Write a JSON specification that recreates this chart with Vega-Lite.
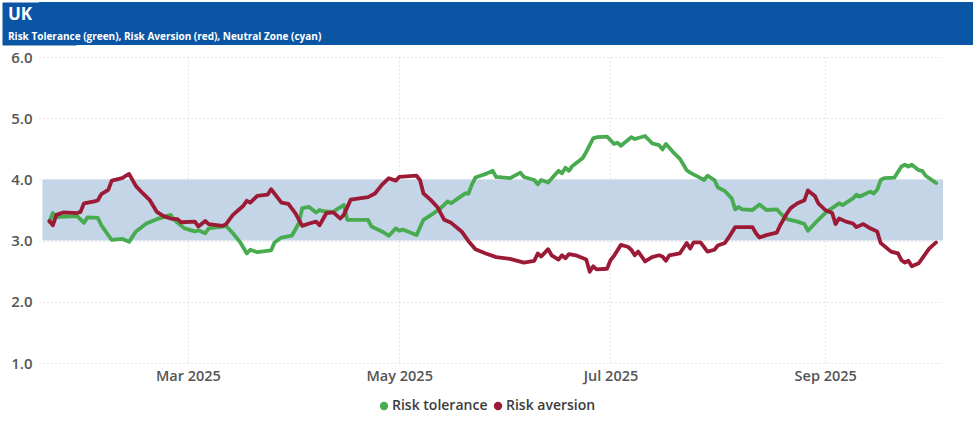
{
  "$schema": "https://vega.github.io/schema/vega-lite/v6.json",
  "padding": {"left": 2, "top": -1, "right": 2, "bottom": 0},
  "background": "white",
  "spacing": 5,
  "config": {"font": "Open Sans", "view": {"stroke": null}},
  "datasets": {
    "band": [{"start": "2025-01-18", "end": "2025-10-05", "lo": 3, "hi": 4}],
    "pts": [
      {"date":"2025-01-20","series":"Risk tolerance","value":3.31},
      {"date":"2025-01-21","series":"Risk tolerance","value":3.45},
      {"date":"2025-01-22","series":"Risk tolerance","value":3.38},
      {"date":"2025-01-23","series":"Risk tolerance","value":3.39},
      {"date":"2025-01-28","series":"Risk tolerance","value":3.40},
      {"date":"2025-01-30","series":"Risk tolerance","value":3.29},
      {"date":"2025-01-31","series":"Risk tolerance","value":3.38},
      {"date":"2025-02-03","series":"Risk tolerance","value":3.37},
      {"date":"2025-02-04","series":"Risk tolerance","value":3.25},
      {"date":"2025-02-07","series":"Risk tolerance","value":3.01},
      {"date":"2025-02-10","series":"Risk tolerance","value":3.03},
      {"date":"2025-02-12","series":"Risk tolerance","value":2.98},
      {"date":"2025-02-14","series":"Risk tolerance","value":3.15},
      {"date":"2025-02-17","series":"Risk tolerance","value":3.28},
      {"date":"2025-02-20","series":"Risk tolerance","value":3.35},
      {"date":"2025-02-24","series":"Risk tolerance","value":3.42},
      {"date":"2025-02-25","series":"Risk tolerance","value":3.34},
      {"date":"2025-02-28","series":"Risk tolerance","value":3.20},
      {"date":"2025-03-03","series":"Risk tolerance","value":3.15},
      {"date":"2025-03-04","series":"Risk tolerance","value":3.17},
      {"date":"2025-03-06","series":"Risk tolerance","value":3.12},
      {"date":"2025-03-07","series":"Risk tolerance","value":3.20},
      {"date":"2025-03-11","series":"Risk tolerance","value":3.23},
      {"date":"2025-03-12","series":"Risk tolerance","value":3.24},
      {"date":"2025-03-14","series":"Risk tolerance","value":3.12},
      {"date":"2025-03-16","series":"Risk tolerance","value":2.98},
      {"date":"2025-03-18","series":"Risk tolerance","value":2.79},
      {"date":"2025-03-19","series":"Risk tolerance","value":2.85},
      {"date":"2025-03-21","series":"Risk tolerance","value":2.81},
      {"date":"2025-03-25","series":"Risk tolerance","value":2.84},
      {"date":"2025-03-26","series":"Risk tolerance","value":2.97},
      {"date":"2025-03-28","series":"Risk tolerance","value":3.05},
      {"date":"2025-03-31","series":"Risk tolerance","value":3.08},
      {"date":"2025-04-02","series":"Risk tolerance","value":3.28},
      {"date":"2025-04-03","series":"Risk tolerance","value":3.53},
      {"date":"2025-04-05","series":"Risk tolerance","value":3.55},
      {"date":"2025-04-07","series":"Risk tolerance","value":3.46},
      {"date":"2025-04-08","series":"Risk tolerance","value":3.50},
      {"date":"2025-04-09","series":"Risk tolerance","value":3.48},
      {"date":"2025-04-12","series":"Risk tolerance","value":3.47},
      {"date":"2025-04-13","series":"Risk tolerance","value":3.51},
      {"date":"2025-04-15","series":"Risk tolerance","value":3.58},
      {"date":"2025-04-16","series":"Risk tolerance","value":3.34},
      {"date":"2025-04-22","series":"Risk tolerance","value":3.34},
      {"date":"2025-04-23","series":"Risk tolerance","value":3.23},
      {"date":"2025-04-26","series":"Risk tolerance","value":3.15},
      {"date":"2025-04-28","series":"Risk tolerance","value":3.08},
      {"date":"2025-04-30","series":"Risk tolerance","value":3.20},
      {"date":"2025-05-01","series":"Risk tolerance","value":3.16},
      {"date":"2025-05-02","series":"Risk tolerance","value":3.18},
      {"date":"2025-05-06","series":"Risk tolerance","value":3.09},
      {"date":"2025-05-08","series":"Risk tolerance","value":3.34},
      {"date":"2025-05-11","series":"Risk tolerance","value":3.45},
      {"date":"2025-05-13","series":"Risk tolerance","value":3.53},
      {"date":"2025-05-15","series":"Risk tolerance","value":3.64},
      {"date":"2025-05-16","series":"Risk tolerance","value":3.61},
      {"date":"2025-05-18","series":"Risk tolerance","value":3.69},
      {"date":"2025-05-20","series":"Risk tolerance","value":3.77},
      {"date":"2025-05-21","series":"Risk tolerance","value":3.77},
      {"date":"2025-05-22","series":"Risk tolerance","value":3.92},
      {"date":"2025-05-23","series":"Risk tolerance","value":4.03},
      {"date":"2025-05-26","series":"Risk tolerance","value":4.09},
      {"date":"2025-05-28","series":"Risk tolerance","value":4.14},
      {"date":"2025-05-29","series":"Risk tolerance","value":4.04},
      {"date":"2025-06-02","series":"Risk tolerance","value":4.02},
      {"date":"2025-06-05","series":"Risk tolerance","value":4.11},
      {"date":"2025-06-06","series":"Risk tolerance","value":4.04},
      {"date":"2025-06-09","series":"Risk tolerance","value":3.99},
      {"date":"2025-06-10","series":"Risk tolerance","value":3.92},
      {"date":"2025-06-11","series":"Risk tolerance","value":3.99},
      {"date":"2025-06-13","series":"Risk tolerance","value":3.95},
      {"date":"2025-06-16","series":"Risk tolerance","value":4.14},
      {"date":"2025-06-17","series":"Risk tolerance","value":4.10},
      {"date":"2025-06-18","series":"Risk tolerance","value":4.19},
      {"date":"2025-06-19","series":"Risk tolerance","value":4.14},
      {"date":"2025-06-20","series":"Risk tolerance","value":4.22},
      {"date":"2025-06-23","series":"Risk tolerance","value":4.35},
      {"date":"2025-06-24","series":"Risk tolerance","value":4.45},
      {"date":"2025-06-26","series":"Risk tolerance","value":4.67},
      {"date":"2025-06-27","series":"Risk tolerance","value":4.69},
      {"date":"2025-06-30","series":"Risk tolerance","value":4.70},
      {"date":"2025-07-02","series":"Risk tolerance","value":4.58},
      {"date":"2025-07-03","series":"Risk tolerance","value":4.60},
      {"date":"2025-07-04","series":"Risk tolerance","value":4.55},
      {"date":"2025-07-07","series":"Risk tolerance","value":4.69},
      {"date":"2025-07-08","series":"Risk tolerance","value":4.66},
      {"date":"2025-07-11","series":"Risk tolerance","value":4.71},
      {"date":"2025-07-13","series":"Risk tolerance","value":4.59},
      {"date":"2025-07-15","series":"Risk tolerance","value":4.56},
      {"date":"2025-07-16","series":"Risk tolerance","value":4.49},
      {"date":"2025-07-17","series":"Risk tolerance","value":4.58},
      {"date":"2025-07-19","series":"Risk tolerance","value":4.45},
      {"date":"2025-07-21","series":"Risk tolerance","value":4.34},
      {"date":"2025-07-23","series":"Risk tolerance","value":4.15},
      {"date":"2025-07-24","series":"Risk tolerance","value":4.11},
      {"date":"2025-07-27","series":"Risk tolerance","value":4.02},
      {"date":"2025-07-28","series":"Risk tolerance","value":3.99},
      {"date":"2025-07-29","series":"Risk tolerance","value":4.06},
      {"date":"2025-07-31","series":"Risk tolerance","value":3.99},
      {"date":"2025-08-01","series":"Risk tolerance","value":3.87},
      {"date":"2025-08-03","series":"Risk tolerance","value":3.81},
      {"date":"2025-08-05","series":"Risk tolerance","value":3.69},
      {"date":"2025-08-06","series":"Risk tolerance","value":3.51},
      {"date":"2025-08-07","series":"Risk tolerance","value":3.55},
      {"date":"2025-08-08","series":"Risk tolerance","value":3.51},
      {"date":"2025-08-11","series":"Risk tolerance","value":3.50},
      {"date":"2025-08-13","series":"Risk tolerance","value":3.59},
      {"date":"2025-08-15","series":"Risk tolerance","value":3.50},
      {"date":"2025-08-18","series":"Risk tolerance","value":3.51},
      {"date":"2025-08-19","series":"Risk tolerance","value":3.45},
      {"date":"2025-08-21","series":"Risk tolerance","value":3.35},
      {"date":"2025-08-24","series":"Risk tolerance","value":3.31},
      {"date":"2025-08-26","series":"Risk tolerance","value":3.27},
      {"date":"2025-08-27","series":"Risk tolerance","value":3.16},
      {"date":"2025-08-28","series":"Risk tolerance","value":3.22},
      {"date":"2025-08-30","series":"Risk tolerance","value":3.34},
      {"date":"2025-09-01","series":"Risk tolerance","value":3.45},
      {"date":"2025-09-03","series":"Risk tolerance","value":3.53},
      {"date":"2025-09-05","series":"Risk tolerance","value":3.61},
      {"date":"2025-09-06","series":"Risk tolerance","value":3.58},
      {"date":"2025-09-09","series":"Risk tolerance","value":3.69},
      {"date":"2025-09-10","series":"Risk tolerance","value":3.75},
      {"date":"2025-09-11","series":"Risk tolerance","value":3.72},
      {"date":"2025-09-14","series":"Risk tolerance","value":3.80},
      {"date":"2025-09-15","series":"Risk tolerance","value":3.77},
      {"date":"2025-09-16","series":"Risk tolerance","value":3.83},
      {"date":"2025-09-17","series":"Risk tolerance","value":3.99},
      {"date":"2025-09-18","series":"Risk tolerance","value":4.02},
      {"date":"2025-09-21","series":"Risk tolerance","value":4.03},
      {"date":"2025-09-23","series":"Risk tolerance","value":4.21},
      {"date":"2025-09-24","series":"Risk tolerance","value":4.24},
      {"date":"2025-09-25","series":"Risk tolerance","value":4.21},
      {"date":"2025-09-26","series":"Risk tolerance","value":4.24},
      {"date":"2025-09-28","series":"Risk tolerance","value":4.15},
      {"date":"2025-09-29","series":"Risk tolerance","value":4.14},
      {"date":"2025-09-30","series":"Risk tolerance","value":4.06},
      {"date":"2025-10-03","series":"Risk tolerance","value":3.94},
      {"date":"2025-01-20","series":"Risk aversion","value":3.32},
      {"date":"2025-01-21","series":"Risk aversion","value":3.25},
      {"date":"2025-01-22","series":"Risk aversion","value":3.42},
      {"date":"2025-01-24","series":"Risk aversion","value":3.46},
      {"date":"2025-01-28","series":"Risk aversion","value":3.45},
      {"date":"2025-01-29","series":"Risk aversion","value":3.47},
      {"date":"2025-01-30","series":"Risk aversion","value":3.61},
      {"date":"2025-02-02","series":"Risk aversion","value":3.64},
      {"date":"2025-02-03","series":"Risk aversion","value":3.66},
      {"date":"2025-02-04","series":"Risk aversion","value":3.76},
      {"date":"2025-02-06","series":"Risk aversion","value":3.83},
      {"date":"2025-02-07","series":"Risk aversion","value":3.98},
      {"date":"2025-02-10","series":"Risk aversion","value":4.02},
      {"date":"2025-02-12","series":"Risk aversion","value":4.09},
      {"date":"2025-02-14","series":"Risk aversion","value":3.89},
      {"date":"2025-02-16","series":"Risk aversion","value":3.77},
      {"date":"2025-02-18","series":"Risk aversion","value":3.66},
      {"date":"2025-02-20","series":"Risk aversion","value":3.47},
      {"date":"2025-02-22","series":"Risk aversion","value":3.40},
      {"date":"2025-02-24","series":"Risk aversion","value":3.36},
      {"date":"2025-02-26","series":"Risk aversion","value":3.35},
      {"date":"2025-02-27","series":"Risk aversion","value":3.30},
      {"date":"2025-03-03","series":"Risk aversion","value":3.31},
      {"date":"2025-03-04","series":"Risk aversion","value":3.23},
      {"date":"2025-03-06","series":"Risk aversion","value":3.32},
      {"date":"2025-03-07","series":"Risk aversion","value":3.27},
      {"date":"2025-03-11","series":"Risk aversion","value":3.24},
      {"date":"2025-03-12","series":"Risk aversion","value":3.27},
      {"date":"2025-03-14","series":"Risk aversion","value":3.42},
      {"date":"2025-03-17","series":"Risk aversion","value":3.57},
      {"date":"2025-03-18","series":"Risk aversion","value":3.65},
      {"date":"2025-03-19","series":"Risk aversion","value":3.62},
      {"date":"2025-03-21","series":"Risk aversion","value":3.73},
      {"date":"2025-03-24","series":"Risk aversion","value":3.75},
      {"date":"2025-03-25","series":"Risk aversion","value":3.84},
      {"date":"2025-03-28","series":"Risk aversion","value":3.62},
      {"date":"2025-03-30","series":"Risk aversion","value":3.60},
      {"date":"2025-04-01","series":"Risk aversion","value":3.45},
      {"date":"2025-04-03","series":"Risk aversion","value":3.24},
      {"date":"2025-04-05","series":"Risk aversion","value":3.28},
      {"date":"2025-04-07","series":"Risk aversion","value":3.31},
      {"date":"2025-04-08","series":"Risk aversion","value":3.25},
      {"date":"2025-04-10","series":"Risk aversion","value":3.45},
      {"date":"2025-04-12","series":"Risk aversion","value":3.46},
      {"date":"2025-04-14","series":"Risk aversion","value":3.36},
      {"date":"2025-04-15","series":"Risk aversion","value":3.42},
      {"date":"2025-04-17","series":"Risk aversion","value":3.67},
      {"date":"2025-04-22","series":"Risk aversion","value":3.71},
      {"date":"2025-04-24","series":"Risk aversion","value":3.77},
      {"date":"2025-04-26","series":"Risk aversion","value":3.91},
      {"date":"2025-04-28","series":"Risk aversion","value":4.02},
      {"date":"2025-04-30","series":"Risk aversion","value":3.98},
      {"date":"2025-05-01","series":"Risk aversion","value":4.04},
      {"date":"2025-05-06","series":"Risk aversion","value":4.06},
      {"date":"2025-05-07","series":"Risk aversion","value":3.99},
      {"date":"2025-05-08","series":"Risk aversion","value":3.77},
      {"date":"2025-05-10","series":"Risk aversion","value":3.67},
      {"date":"2025-05-12","series":"Risk aversion","value":3.55},
      {"date":"2025-05-14","series":"Risk aversion","value":3.34},
      {"date":"2025-05-16","series":"Risk aversion","value":3.29},
      {"date":"2025-05-19","series":"Risk aversion","value":3.15},
      {"date":"2025-05-21","series":"Risk aversion","value":2.99},
      {"date":"2025-05-23","series":"Risk aversion","value":2.86},
      {"date":"2025-05-26","series":"Risk aversion","value":2.79},
      {"date":"2025-05-29","series":"Risk aversion","value":2.73},
      {"date":"2025-06-02","series":"Risk aversion","value":2.70},
      {"date":"2025-06-06","series":"Risk aversion","value":2.64},
      {"date":"2025-06-09","series":"Risk aversion","value":2.67},
      {"date":"2025-06-10","series":"Risk aversion","value":2.79},
      {"date":"2025-06-11","series":"Risk aversion","value":2.74},
      {"date":"2025-06-13","series":"Risk aversion","value":2.86},
      {"date":"2025-06-14","series":"Risk aversion","value":2.76},
      {"date":"2025-06-16","series":"Risk aversion","value":2.69},
      {"date":"2025-06-17","series":"Risk aversion","value":2.76},
      {"date":"2025-06-18","series":"Risk aversion","value":2.71},
      {"date":"2025-06-19","series":"Risk aversion","value":2.78},
      {"date":"2025-06-21","series":"Risk aversion","value":2.76},
      {"date":"2025-06-24","series":"Risk aversion","value":2.69},
      {"date":"2025-06-25","series":"Risk aversion","value":2.49},
      {"date":"2025-06-26","series":"Risk aversion","value":2.58},
      {"date":"2025-06-27","series":"Risk aversion","value":2.53},
      {"date":"2025-06-30","series":"Risk aversion","value":2.54},
      {"date":"2025-07-01","series":"Risk aversion","value":2.68},
      {"date":"2025-07-02","series":"Risk aversion","value":2.75},
      {"date":"2025-07-04","series":"Risk aversion","value":2.93},
      {"date":"2025-07-06","series":"Risk aversion","value":2.90},
      {"date":"2025-07-07","series":"Risk aversion","value":2.85},
      {"date":"2025-07-08","series":"Risk aversion","value":2.76},
      {"date":"2025-07-09","series":"Risk aversion","value":2.82},
      {"date":"2025-07-11","series":"Risk aversion","value":2.66},
      {"date":"2025-07-13","series":"Risk aversion","value":2.73},
      {"date":"2025-07-15","series":"Risk aversion","value":2.76},
      {"date":"2025-07-16","series":"Risk aversion","value":2.74},
      {"date":"2025-07-17","series":"Risk aversion","value":2.67},
      {"date":"2025-07-18","series":"Risk aversion","value":2.76},
      {"date":"2025-07-21","series":"Risk aversion","value":2.79},
      {"date":"2025-07-23","series":"Risk aversion","value":2.96},
      {"date":"2025-07-24","series":"Risk aversion","value":2.87},
      {"date":"2025-07-25","series":"Risk aversion","value":2.97},
      {"date":"2025-07-27","series":"Risk aversion","value":2.97},
      {"date":"2025-07-29","series":"Risk aversion","value":2.82},
      {"date":"2025-07-31","series":"Risk aversion","value":2.85},
      {"date":"2025-08-01","series":"Risk aversion","value":2.92},
      {"date":"2025-08-03","series":"Risk aversion","value":2.96},
      {"date":"2025-08-04","series":"Risk aversion","value":3.04},
      {"date":"2025-08-06","series":"Risk aversion","value":3.22},
      {"date":"2025-08-11","series":"Risk aversion","value":3.22},
      {"date":"2025-08-12","series":"Risk aversion","value":3.12},
      {"date":"2025-08-13","series":"Risk aversion","value":3.05},
      {"date":"2025-08-15","series":"Risk aversion","value":3.09},
      {"date":"2025-08-18","series":"Risk aversion","value":3.13},
      {"date":"2025-08-19","series":"Risk aversion","value":3.25},
      {"date":"2025-08-21","series":"Risk aversion","value":3.45},
      {"date":"2025-08-22","series":"Risk aversion","value":3.53},
      {"date":"2025-08-24","series":"Risk aversion","value":3.61},
      {"date":"2025-08-26","series":"Risk aversion","value":3.66},
      {"date":"2025-08-27","series":"Risk aversion","value":3.82},
      {"date":"2025-08-29","series":"Risk aversion","value":3.73},
      {"date":"2025-08-30","series":"Risk aversion","value":3.61},
      {"date":"2025-09-01","series":"Risk aversion","value":3.50},
      {"date":"2025-09-03","series":"Risk aversion","value":3.45},
      {"date":"2025-09-04","series":"Risk aversion","value":3.27},
      {"date":"2025-09-05","series":"Risk aversion","value":3.36},
      {"date":"2025-09-07","series":"Risk aversion","value":3.31},
      {"date":"2025-09-09","series":"Risk aversion","value":3.28},
      {"date":"2025-09-10","series":"Risk aversion","value":3.22},
      {"date":"2025-09-12","series":"Risk aversion","value":3.27},
      {"date":"2025-09-14","series":"Risk aversion","value":3.20},
      {"date":"2025-09-16","series":"Risk aversion","value":3.15},
      {"date":"2025-09-17","series":"Risk aversion","value":2.96},
      {"date":"2025-09-20","series":"Risk aversion","value":2.82},
      {"date":"2025-09-22","series":"Risk aversion","value":2.79},
      {"date":"2025-09-23","series":"Risk aversion","value":2.68},
      {"date":"2025-09-24","series":"Risk aversion","value":2.64},
      {"date":"2025-09-25","series":"Risk aversion","value":2.67},
      {"date":"2025-09-26","series":"Risk aversion","value":2.58},
      {"date":"2025-09-28","series":"Risk aversion","value":2.63},
      {"date":"2025-09-29","series":"Risk aversion","value":2.71},
      {"date":"2025-10-01","series":"Risk aversion","value":2.87},
      {"date":"2025-10-03","series":"Risk aversion","value":2.97}
    ]
  },
  "vconcat": [
    {
      "width": 934,
      "height": 43,
      "view": {"fill": "#0b56a4", "stroke": null},
      "title": {
        "text": "UK",
        "subtitle": "Risk Tolerance (green), Risk Aversion (red), Neutral Zone (cyan)",
        "anchor": "start",
        "frame": "group",
        "orient": "top",
        "offset": -44,
        "dx": -31,
        "font": "Open Sans",
        "fontSize": 17,
        "fontWeight": "bold",
        "color": "white",
        "subtitleFont": "Open Sans",
        "subtitleFontSize": 10,
        "subtitleFontWeight": "bold",
        "subtitleColor": "white",
        "subtitlePadding": 8
      },
      "data": {"values": [{"k": 1}]},
      "mark": {"type": "point", "opacity": 0},
      "encoding": {
        "y": {
          "field": "k",
          "type": "quantitative",
          "axis": {
            "title": null,
            "labels": false,
            "ticks": false,
            "grid": false,
            "domain": true,
            "domainColor": "#0b56a4",
            "domainWidth": 74,
            "domainCap": "butt",
            "offset": 0,
            "minExtent": 37,
            "maxExtent": 37
          }
        }
      }
    },
    {
      "width": 904,
      "height": 306,
      "layer": [
        {
          "data": {"name": "band"},
          "mark": {"type": "rect", "color": "#c3d5e7"},
          "encoding": {
            "x": {"field": "start", "type": "temporal"},
            "x2": {"field": "end"},
            "y": {"field": "lo", "type": "quantitative"},
            "y2": {"field": "hi"}
          }
        },
        {
          "data": {"name": "pts"},
          "mark": {"type": "line", "strokeWidth": 3.8, "strokeJoin": "round", "strokeCap": "round"},
          "encoding": {
            "x": {"field": "date", "type": "temporal"},
            "y": {"field": "value", "type": "quantitative"},
            "color": {
              "field": "series",
              "type": "nominal",
              "sort": ["Risk tolerance", "Risk aversion"],
              "scale": {"domain": ["Risk tolerance", "Risk aversion"], "range": ["#48ab4f", "#9c1a36"]},
              "legend": {
                "orient": "none",
                "legendX": 338,
                "legendY": 397,
                "direction": "horizontal",
                "title": null,
                "symbolType": "circle",
                "symbolSize": 70,
                "symbolStrokeWidth": 0,
                "labelFont": "Open Sans",
                "labelFontSize": 14,
                "labelFontWeight": 600,
                "labelColor": "#3c3c3c",
                "labelOffset": 1,
                "columnPadding": 3,
                "encode": {"symbols": {"update": {"fill": {"scale": "color", "field": "value"}, "strokeWidth": {"value": 0}}}}
              }
            },
            "order": {"field": "series", "type": "nominal", "sort": "descending"}
          }
        }
      ],
      "resolve": {"scale": {"x": "shared", "y": "shared"}},
      "encoding": {
        "x": {
          "field": "date",
          "type": "temporal",
          "scale": {"type": "utc", "domain": ["2025-01-17", "2025-10-05"]},
          "axis": {
            "title": null,
            "values": [
              {"year": 2025, "month": 3, "date": 1, "utc": true},
              {"year": 2025, "month": 5, "date": 1, "utc": true},
              {"year": 2025, "month": 7, "date": 1, "utc": true},
              {"year": 2025, "month": 9, "date": 1, "utc": true}
            ],
            "format": "%b %Y",
            "domain": false,
            "ticks": false,
            "grid": true,
            "gridDash": [1, 3],
            "gridColor": "#cccccc",
            "labelFont": "Open Sans",
            "labelFontSize": 14.5,
            "labelFontWeight": 600,
            "labelColor": "#555555",
            "labelPadding": 6
          }
        },
        "y": {
          "field": "value",
          "type": "quantitative",
          "scale": {"domain": [1, 6], "nice": false, "zero": false},
          "axis": {
            "title": null,
            "values": [1, 2, 3, 4, 5, 6],
            "format": ".1f",
            "domain": false,
            "ticks": false,
            "grid": true,
            "gridDash": [1, 3],
            "gridColor": "#cccccc",
            "labelFont": "Open Sans",
            "labelFontSize": 15,
            "labelFontWeight": 600,
            "labelColor": "#555555",
            "labelPadding": 7,
            "minExtent": 37,
            "maxExtent": 37
          }
        }
      }
    }
  ]
}
